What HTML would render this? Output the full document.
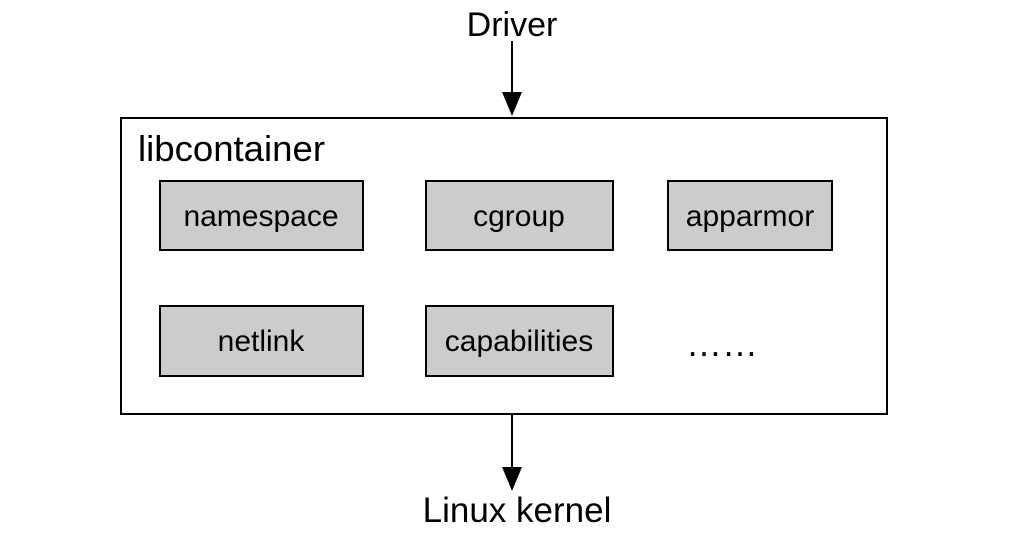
<!DOCTYPE html>
<html><head><style>
body{margin:0;width:1024px;height:538px;background:#fff;overflow:hidden;}
svg text{font-family:"Liberation Sans",Arial,sans-serif;fill:#000;}
</style></head><body>
<svg width="1024" height="538" xmlns="http://www.w3.org/2000/svg">
<text x="512" y="36" font-size="34" text-anchor="middle">Driver</text>
<line x1="512" y1="41" x2="512" y2="95" stroke="#000" stroke-width="2"/>
<polygon points="502,92 522,92 512,116" fill="#000"/>
<rect x="121" y="118" width="766" height="296" fill="#fff" stroke="#000" stroke-width="2"/>
<text x="138" y="161" font-size="36" textLength="187" lengthAdjust="spacingAndGlyphs">libcontainer</text>
<g fill="#cccccc" stroke="#000" stroke-width="2">
<rect x="160" y="181" width="203" height="69"/>
<rect x="426" y="181" width="187" height="69"/>
<rect x="668" y="181" width="164" height="69"/>
<rect x="160" y="306" width="203" height="70"/>
<rect x="426" y="306" width="187" height="70"/>
</g>
<g font-size="30" text-anchor="middle">
<text x="261" y="226">namespace</text>
<text x="519" y="226">cgroup</text>
<text x="750" y="226">apparmor</text>
<text x="261" y="351">netlink</text>
<text x="519" y="351">capabilities</text>
<text x="722" y="356" font-size="36">……</text>
</g>
<line x1="512" y1="414" x2="512" y2="470" stroke="#000" stroke-width="2"/>
<polygon points="502,467 522,467 512,491" fill="#000"/>
<text x="517" y="522" font-size="35" text-anchor="middle">Linux kernel</text>
</svg>
</body></html>
